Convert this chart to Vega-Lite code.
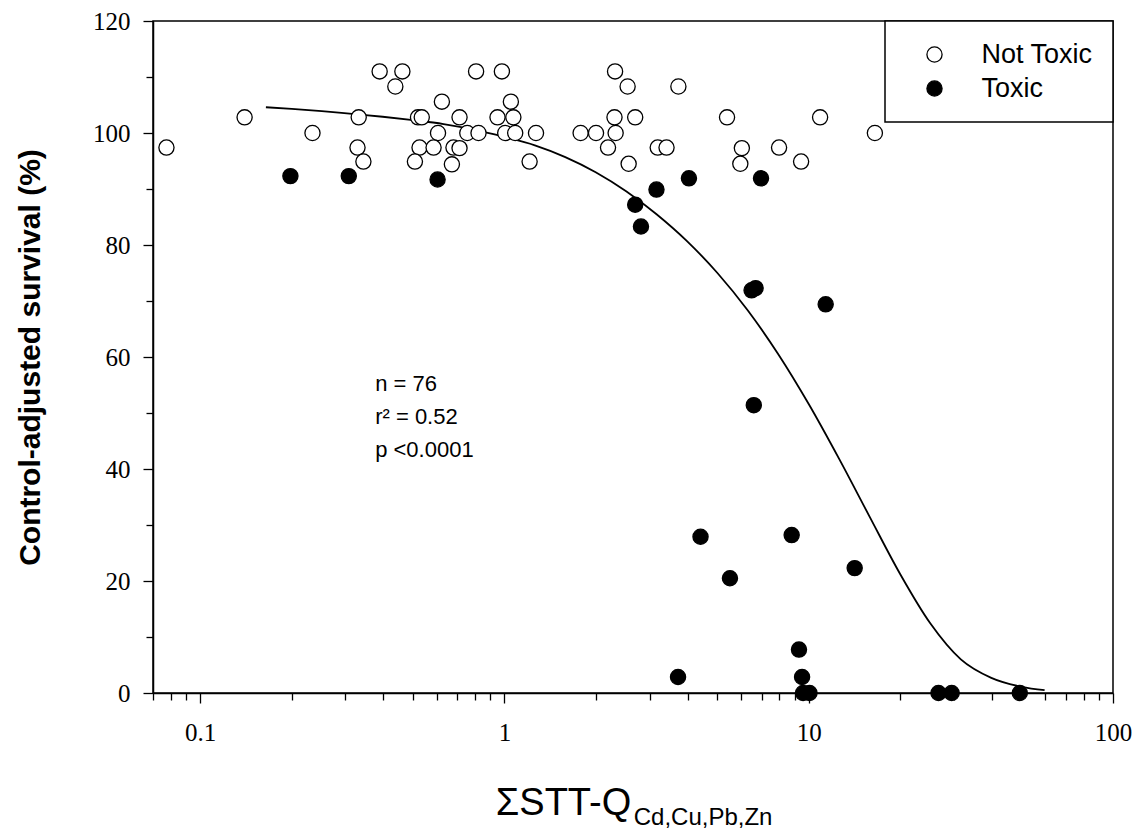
{
  "$schema": "https://vega.github.io/schema/vega-lite/v6.json",
  "width": 960,
  "height": 672,
  "autosize": {"type": "none"},
  "padding": {"left": 153, "top": 21, "right": 24, "bottom": 139},
  "background": "white",
  "config": {
    "view": {"stroke": "black", "strokeWidth": 1.5},
    "axis": {"grid": false, "domainColor": "black", "domainWidth": 1.5, "tickColor": "black", "tickWidth": 1.3, "labelColor": "black", "titleColor": "black", "labelFont": "Liberation Serif", "labelFontSize": 25, "labelFontWeight": "normal"},
    "legend": {"orient": "top-right", "offset": 0, "padding": 20, "strokeColor": "black", "strokeWidth": 1.5, "fillColor": "white", "labelFont": "Liberation Sans", "labelFontSize": 27, "labelColor": "black", "labelOffset": 33.5, "symbolOffset": 16, "symbolSize": 230, "symbolStrokeColor": "black", "symbolStrokeWidth": 1.3, "symbolType": "circle", "rowPadding": 6}
  },
  "datasets": {
    "curve": [
      {"x": 0.1645, "y": 104.6}, {"x": 0.2, "y": 104.3}, {"x": 0.251, "y": 103.9}, {"x": 0.316, "y": 103.4},
      {"x": 0.398, "y": 102.9}, {"x": 0.501, "y": 102.3}, {"x": 0.631, "y": 101.6}, {"x": 0.794, "y": 100.6},
      {"x": 1.0, "y": 99.3}, {"x": 1.259, "y": 97.8}, {"x": 1.585, "y": 95.7}, {"x": 1.995, "y": 93.0},
      {"x": 2.512, "y": 89.6}, {"x": 3.162, "y": 85.5}, {"x": 3.981, "y": 80.7}, {"x": 5.012, "y": 75.0},
      {"x": 6.31, "y": 68.3}, {"x": 7.943, "y": 60.5}, {"x": 10.0, "y": 51.6}, {"x": 12.59, "y": 41.8},
      {"x": 15.85, "y": 31.5}, {"x": 19.95, "y": 21.3}, {"x": 25.12, "y": 12.4}, {"x": 31.62, "y": 6.0},
      {"x": 39.81, "y": 2.7}, {"x": 50.12, "y": 1.1}, {"x": 59.6, "y": 0.5}
    ],
    "pts": [
      {"x": 0.0775, "y": 97.4, "g": "Not Toxic"}, {"x": 0.14, "y": 102.8, "g": "Not Toxic"},
      {"x": 0.234, "y": 100.0, "g": "Not Toxic"}, {"x": 0.332, "y": 102.8, "g": "Not Toxic"},
      {"x": 0.329, "y": 97.4, "g": "Not Toxic"}, {"x": 0.344, "y": 94.9, "g": "Not Toxic"},
      {"x": 0.389, "y": 111.0, "g": "Not Toxic"}, {"x": 0.462, "y": 111.0, "g": "Not Toxic"},
      {"x": 0.438, "y": 108.3, "g": "Not Toxic"}, {"x": 0.623, "y": 105.6, "g": "Not Toxic"},
      {"x": 0.52, "y": 102.8, "g": "Not Toxic"}, {"x": 0.535, "y": 102.8, "g": "Not Toxic"},
      {"x": 0.712, "y": 102.8, "g": "Not Toxic"}, {"x": 0.605, "y": 100.0, "g": "Not Toxic"},
      {"x": 0.755, "y": 100.0, "g": "Not Toxic"}, {"x": 0.526, "y": 97.4, "g": "Not Toxic"},
      {"x": 0.585, "y": 97.4, "g": "Not Toxic"}, {"x": 0.68, "y": 97.4, "g": "Not Toxic"},
      {"x": 0.712, "y": 97.3, "g": "Not Toxic"}, {"x": 0.508, "y": 94.9, "g": "Not Toxic"},
      {"x": 0.672, "y": 94.4, "g": "Not Toxic"}, {"x": 0.807, "y": 111.0, "g": "Not Toxic"},
      {"x": 0.981, "y": 111.0, "g": "Not Toxic"}, {"x": 2.31, "y": 111.0, "g": "Not Toxic"},
      {"x": 2.54, "y": 108.3, "g": "Not Toxic"}, {"x": 3.73, "y": 108.3, "g": "Not Toxic"},
      {"x": 1.05, "y": 105.6, "g": "Not Toxic"}, {"x": 0.949, "y": 102.8, "g": "Not Toxic"},
      {"x": 1.07, "y": 102.8, "g": "Not Toxic"}, {"x": 2.30, "y": 102.8, "g": "Not Toxic"},
      {"x": 2.69, "y": 102.8, "g": "Not Toxic"}, {"x": 5.39, "y": 102.8, "g": "Not Toxic"},
      {"x": 0.822, "y": 100.0, "g": "Not Toxic"}, {"x": 1.006, "y": 100.0, "g": "Not Toxic"},
      {"x": 1.085, "y": 100.0, "g": "Not Toxic"}, {"x": 1.27, "y": 100.0, "g": "Not Toxic"},
      {"x": 1.78, "y": 100.0, "g": "Not Toxic"}, {"x": 2.00, "y": 100.0, "g": "Not Toxic"},
      {"x": 2.32, "y": 100.0, "g": "Not Toxic"}, {"x": 2.19, "y": 97.4, "g": "Not Toxic"},
      {"x": 3.19, "y": 97.4, "g": "Not Toxic"}, {"x": 3.41, "y": 97.4, "g": "Not Toxic"},
      {"x": 6.03, "y": 97.3, "g": "Not Toxic"}, {"x": 7.99, "y": 97.4, "g": "Not Toxic"},
      {"x": 1.21, "y": 94.9, "g": "Not Toxic"}, {"x": 2.56, "y": 94.5, "g": "Not Toxic"},
      {"x": 5.96, "y": 94.5, "g": "Not Toxic"}, {"x": 10.9, "y": 102.8, "g": "Not Toxic"},
      {"x": 16.5, "y": 100.0, "g": "Not Toxic"}, {"x": 9.44, "y": 94.9, "g": "Not Toxic"},
      {"x": 0.198, "y": 92.3, "g": "Toxic"}, {"x": 0.308, "y": 92.3, "g": "Toxic"},
      {"x": 0.603, "y": 91.7, "g": "Toxic"}, {"x": 3.16, "y": 89.9, "g": "Toxic"},
      {"x": 4.04, "y": 91.9, "g": "Toxic"}, {"x": 6.97, "y": 91.9, "g": "Toxic"},
      {"x": 2.69, "y": 87.2, "g": "Toxic"}, {"x": 2.81, "y": 83.3, "g": "Toxic"},
      {"x": 6.49, "y": 71.9, "g": "Toxic"}, {"x": 6.69, "y": 72.3, "g": "Toxic"},
      {"x": 11.37, "y": 69.4, "g": "Toxic"}, {"x": 6.6, "y": 51.4, "g": "Toxic"},
      {"x": 4.41, "y": 27.9, "g": "Toxic"}, {"x": 8.79, "y": 28.2, "g": "Toxic"},
      {"x": 5.51, "y": 20.5, "g": "Toxic"}, {"x": 14.16, "y": 22.3, "g": "Toxic"},
      {"x": 9.29, "y": 7.75, "g": "Toxic"}, {"x": 3.72, "y": 2.86, "g": "Toxic"},
      {"x": 9.51, "y": 2.86, "g": "Toxic"}, {"x": 9.58, "y": 0, "g": "Toxic"},
      {"x": 10.06, "y": 0, "g": "Toxic"}, {"x": 26.7, "y": 0, "g": "Toxic"},
      {"x": 29.5, "y": 0, "g": "Toxic"}, {"x": 49.4, "y": 0, "g": "Toxic"}
    ]
  },
  "layer": [
    {
      "data": {"name": "curve"},
      "mark": {"type": "line", "color": "black", "strokeWidth": 1.8, "interpolate": "monotone"},
      "encoding": {
        "x": {
          "field": "x", "type": "quantitative",
          "scale": {"type": "log", "domain": [0.07, 100], "nice": false},
          "axis": {
            "title": "ΣSTT-Q",
            "titleFont": "Liberation Sans", "titleFontSize": 38, "titleFontWeight": "normal",
            "titleX": 410, "titleY": 121, "titleAlign": "center", "titleBaseline": "alphabetic", "titleAnchor": null,
            "values": [0.07, 0.08, 0.09, 0.1, 0.2, 0.3, 0.4, 0.5, 0.6, 0.7, 0.8, 0.9, 1, 2, 3, 4, 5, 6, 7, 8, 9, 10, 20, 30, 40, 50, 60, 70, 80, 90, 100],
            "labelExpr": "datum.value == 0.1 ? '0.1' : datum.value == 1 ? '1' : datum.value == 10 ? '10' : datum.value == 100 ? '100' : ''",
            "tickSize": {"condition": {"test": "datum.value == 0.1 || datum.value == 1 || datum.value == 10 || datum.value == 100", "value": 10}, "value": 7},
            "labelPadding": 17, "labelFlush": false, "labelOverlap": false
          }
        },
        "y": {
          "field": "y", "type": "quantitative",
          "scale": {"domain": [0, 120], "nice": false},
          "axis": {
            "title": "Control-adjusted survival (%)",
            "titleFont": "Liberation Sans", "titleFontSize": 30, "titleFontWeight": "bold",
            "titleX": -123, "titleY": 336, "titleAngle": -90, "titleAlign": "center", "titleBaseline": "middle", "titleAnchor": null,
            "values": [0, 5, 10, 15, 20, 25, 30, 35, 40, 45, 50, 55, 60, 65, 70, 75, 80, 85, 90, 95, 100, 105, 110, 115, 120],
            "labelExpr": "datum.value % 20 == 0 ? datum.label : ''",
            "tickSize": {"condition": {"test": "datum.value % 20 == 0", "value": 10}, "value": 7},
            "labelPadding": 13, "labelFlush": false, "labelOverlap": false
          }
        }
      }
    },
    {
      "data": {"name": "pts"},
      "mark": {"type": "point", "shape": "circle", "filled": true, "stroke": "black", "strokeWidth": 1.3, "size": 230, "opacity": 1},
      "encoding": {
        "x": {"field": "x", "type": "quantitative"},
        "y": {"field": "y", "type": "quantitative"},
        "fill": {
          "field": "g", "type": "nominal",
          "scale": {"domain": ["Not Toxic", "Toxic"], "range": ["white", "black"]},
          "legend": {"title": null}
        }
      }
    },
    {
      "data": {"values": [{}]},
      "mark": {"type": "text", "text": ["n = 76", "r² = 0.52", "p <0.0001"], "font": "Liberation Sans", "fontSize": 22, "color": "black", "align": "left", "baseline": "alphabetic", "lineHeight": 33},
      "encoding": {"x": {"datum": 0.376}, "y": {"datum": 53.9}}
    },
    {
      "data": {"values": [{}]},
      "mark": {"type": "text", "text": "Cd,Cu,Pb,Zn", "font": "Liberation Sans", "fontSize": 24, "color": "black", "align": "left", "baseline": "alphabetic"},
      "encoding": {"x": {"datum": 2.66}, "y": {"datum": -23.6}}
    }
  ]
}
